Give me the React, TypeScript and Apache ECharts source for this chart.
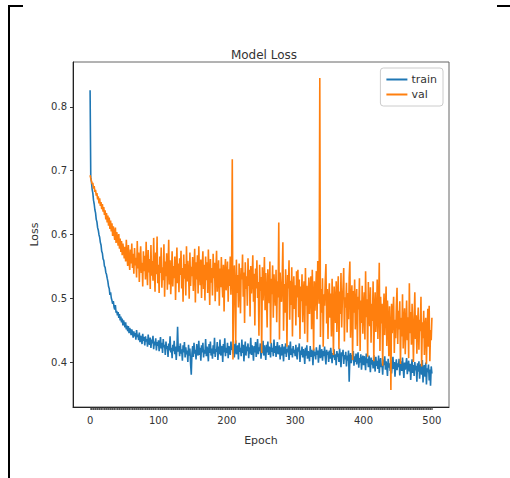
import React, { useEffect, useRef } from "react";
import * as echarts from "echarts";

// Loss values in thousandths, one per epoch (0..500)
const trainLossMilli: number[] = [
  826, 690, 682, 671, 665, 654, 648, 639, 634, 624,
  620, 611, 607, 600, 596, 588, 584, 574, 571, 562,
  560, 551, 549, 541, 538, 532, 527, 519, 516, 506,
  510, 501, 497, 492, 496, 487, 483, 490, 478, 481,
  474, 479, 470, 476, 466, 472, 463, 469, 458, 466,
  461, 455, 463, 452, 458, 449, 457, 446, 454, 450,
  443, 452, 447, 439, 449, 441, 446, 436, 451, 440,
  444, 435, 447, 432, 442, 438, 429, 445, 434, 440,
  427, 441, 433, 437, 425, 444, 431, 428, 439, 423,
  436, 430, 442, 421, 433, 427, 438, 419, 432, 426,
  435, 418, 429, 440, 422, 431, 415, 437, 424, 428,
  412, 433, 421, 426, 409, 430, 419, 441, 416, 423,
  407, 428, 418, 434, 413, 425, 404, 422, 456, 417,
  426, 410, 430, 414, 421, 403, 427, 416, 432, 408,
  424, 413, 419, 401, 428, 411, 422, 398, 381, 415,
  426, 409, 431, 414, 420, 405, 429, 417, 411, 434,
  412, 423, 403, 427, 416, 431, 408, 420, 414, 437,
  410, 425, 418, 402, 429, 415, 433, 411, 422, 406,
  427, 414, 439, 409, 421, 417, 432, 404, 425, 413,
  436, 411, 420, 426, 401, 429, 416, 438, 410, 423,
  415, 431, 407, 426, 418, 412, 433, 420, 425, 414,
  429, 408, 422, 435, 413, 419, 427, 405, 431, 417,
  423, 410, 436, 415, 428, 402, 421, 433, 411, 425,
  418, 430, 407, 424, 414, 439, 412, 427, 420, 403,
  426, 416, 432, 409, 421, 437, 413, 424, 418, 430,
  406, 422, 415, 434, 411, 427, 419, 404, 428, 416,
  433, 412, 425, 420, 408, 431, 417, 423, 410, 436,
  415, 426, 409, 421, 432, 413, 419, 427, 405, 424,
  411, 429, 418, 402, 425, 414, 430, 409, 421, 416,
  427, 404, 419, 433, 412, 422, 408, 426, 415, 420,
  410, 428, 413, 405, 424, 417, 430, 401, 419, 412,
  425, 408, 421, 414, 398, 423, 411, 427, 406, 418,
  413, 402, 426, 409, 420, 415, 396, 422, 410, 417,
  405, 424, 412, 419, 400, 416, 428, 407, 414, 421,
  403, 418, 410, 425, 408, 397, 420, 412, 417, 401,
  419, 406, 423, 411, 399, 415, 408, 421, 404, 413,
  396, 418, 409, 414, 401, 422, 407, 393, 416, 410,
  420, 398, 412, 405, 417, 394, 411, 403, 419, 370,
  408, 415, 399, 412, 404, 418, 395, 410, 401, 414,
  397, 409, 416, 392, 407, 400, 413, 389, 405, 411,
  396, 410, 402, 388, 414, 399, 406, 393, 411, 401,
  385, 408, 397, 404, 391, 412, 398, 386, 409, 395,
  403, 390, 411, 384, 400, 407, 393, 398, 381, 405,
  396, 410, 389, 402, 394, 379, 406, 392, 399, 387,
  404, 383, 397, 409, 390, 401, 378, 395, 405, 388,
  399, 393, 406, 380, 396, 402, 387, 408, 391, 376,
  400, 389, 397, 407, 382, 394, 403, 386, 398, 373,
  392, 405, 384, 396, 379, 401, 388, 395, 370, 399,
  386, 402, 375, 393, 398, 381, 404, 369, 390, 396,
  378, 400, 366, 391, 385, 397, 372, 389, 364, 394,
  383,
];

const valLossMilli: number[] = [
  693, 688, 684, 679, 681, 672, 676, 667, 670, 661,
  665, 655, 660, 649, 657, 645, 651, 640, 648, 636,
  643, 631, 638, 624, 634, 619, 630, 614, 627, 609,
  622, 605, 618, 598, 613, 602, 592, 611, 587, 604,
  596, 583, 601, 578, 594, 573, 590, 568, 586, 575,
  563, 581, 558, 592, 566, 551, 584, 560, 545, 577,
  555, 586, 548, 570, 539, 579, 552, 564, 533, 590,
  547, 572, 526, 561, 582, 540, 556, 519, 574, 543,
  567, 530, 589, 548, 521, 576, 541, 562, 515, 584,
  536, 559, 528, 595, 545, 511, 572, 538, 597, 524,
  553, 509, 566, 540, 580, 517, 549, 529, 585, 503,
  558, 535, 571, 514, 546, 592, 522, 560, 507, 538,
  574, 519, 551, 532, 566, 498, 543, 580, 524, 555,
  510, 563, 537, 575, 516, 548, 495, 569, 531, 554,
  505, 582, 527, 559, 541, 500, 572, 520, 550, 535,
  565, 512, 544, 578, 494, 557, 530, 568, 508, 582,
  539, 521, 561, 501, 548, 574, 515, 553, 497, 566,
  529, 557, 509, 577, 536, 490, 562, 525, 548, 505,
  570, 532, 556, 496, 543, 575, 511, 538, 560, 489,
  547, 518, 565, 527, 502, 553, 480, 541, 562, 513,
  534, 558, 495, 546, 520, 566, 506, 540, 718, 405,
  498, 552, 517, 430, 561, 509, 537, 486, 555, 521,
  477, 548, 530, 569, 503, 541, 462, 557, 515, 535,
  489, 563, 520, 545, 472, 551, 508, 531, 568, 495,
  539, 458, 547, 516, 560, 501, 526, 442, 553, 512,
  534, 415, 549, 497, 521, 565, 482, 540, 508, 455,
  546, 519, 493, 558, 430, 531, 507, 552, 470, 538,
  514, 489, 545, 463, 527, 502, 619, 436, 541, 510,
  495, 532, 588, 450, 523, 478, 546, 505, 425, 537,
  516, 560, 467, 528, 490, 549, 441, 512, 535, 484,
  521, 458, 543, 502, 545, 471, 530, 437, 519, 496,
  538, 463, 511, 527, 445, 548, 489, 520, 432, 506,
  533, 476, 514, 535, 452, 545, 498, 419, 527, 481,
  510, 543, 468, 559, 520, 492, 845, 440, 515, 478,
  532, 425, 507, 489, 528, 554, 461, 515, 437, 498,
  524, 470, 508, 441, 531, 486, 412, 519, 495, 462,
  527, 448, 503, 535, 421, 511, 476, 540, 455, 498,
  517, 548, 433, 502, 486, 525, 447, 509, 468, 533,
  558, 439, 497, 521, 404, 512, 478, 530, 452, 490,
  515, 426, 503, 483, 532, 418, 497, 462, 520, 445,
  488, 510, 436, 543, 471, 499, 409, 526, 480, 457,
  518, 431, 492, 465, 527, 402, 485, 510, 448, 472,
  530, 437, 489, 556, 418, 503, 461, 492, 395, 476,
  508, 443, 482, 519, 426, 497, 467, 410, 488, 453,
  357, 492, 446, 475, 503, 415, 467, 438, 489, 517,
  429, 481, 452, 496, 398, 470, 441, 507, 422, 463,
  485, 413, 458, 497, 435, 471, 407, 524, 446, 479,
  428, 492, 455, 401, 468, 510, 437, 474, 414, 459,
  486, 420, 467, 449, 503, 394, 463, 438, 481, 412,
  456, 470, 398, 447, 484, 425, 489, 402, 451, 435,
  470,
];

const xTickLabels: number[] = [0, 100, 200, 300, 400, 500];
const yTickLabels: number[] = [0.4, 0.5, 0.6, 0.7, 0.8];
const seriesNames = ["train", "val"];
const seriesColors = ["#1f77b4", "#ff7f0e"];

const xMin = -25;
const xMax = 525;
const yMin = 0.3306;
const yMax = 0.87;

export default function App() {
  const ref = useRef<HTMLDivElement>(null);

  useEffect(() => {
    if (!ref.current) return;
    const chart = echarts.init(ref.current, undefined, { renderer: "svg" });
    const toPairs = (arr: number[]) => arr.map((v, i) => [i, v / 1000]);
    const denseTicks: number[] = [];
    for (let e = 0; e < trainLossMilli.length; e += 1) denseTicks.push(e);

    const font = "DejaVu Sans";
    chart.setOption({
      animation: false,
      backgroundColor: "#ffffff",
      title: {
        text: "Model Loss",
        left: 259,
        textAlign: "center",
        top: 44,
        textStyle: { fontFamily: font, fontSize: 12, fontWeight: "normal", color: "#333" },
      },
      legend: {
        orient: "vertical",
        right: 67,
        top: 68,
        data: seriesNames,
        icon: "rect",
        itemWidth: 21,
        itemHeight: 2,
        itemGap: 4,
        padding: [6, 6, 6, 6],
        borderColor: "#cccccc",
        borderWidth: 1,
        borderRadius: 3,
        backgroundColor: "rgba(255,255,255,0.85)",
        textStyle: { fontFamily: font, fontSize: 11, color: "#333", padding: [0, 0, 0, -1] },
      },
      grid: {
        left: 73,
        right: 61,
        top: 62,
        bottom: 71,
        show: true,
        borderColor: "#666",
        borderWidth: 1,
        backgroundColor: "transparent",
      },
      xAxis: {
        type: "value",
        min: xMin,
        max: xMax,
        name: "Epoch",
        nameLocation: "middle",
        nameGap: 28,
        nameTextStyle: { fontFamily: font, fontSize: 11, color: "#333" },
        axisLine: { show: true, onZero: false, lineStyle: { color: "#222", width: 1 } },
        axisTick: {
          show: true,
          customValues: denseTicks,
          length: 3,
          lineStyle: { color: "#333", width: 0.6 },
        },
        axisLabel: {
          customValues: xTickLabels,
          fontFamily: font,
          fontSize: 10,
          color: "#333",
          margin: 8,
        },
        splitLine: { show: false },
      },
      yAxis: {
        type: "value",
        min: yMin,
        max: yMax,
        name: "Loss",
        nameLocation: "middle",
        nameGap: 30,
        nameTextStyle: { fontFamily: font, fontSize: 11, color: "#333" },
        axisLine: { show: true, onZero: false, lineStyle: { color: "#222", width: 1 } },
        axisTick: {
          show: true,
          customValues: yTickLabels,
          length: 3,
          lineStyle: { color: "#333" },
        },
        axisLabel: {
          customValues: yTickLabels,
          fontFamily: font,
          fontSize: 10,
          color: "#333",
          margin: 6,
          formatter: (v: number) => v.toFixed(1),
        },
        splitLine: { show: false },
      },
      series: [
        {
          name: seriesNames[0],
          type: "line",
          data: toPairs(trainLossMilli),
          showSymbol: false,
          symbol: "none",
          lineStyle: { color: seriesColors[0], width: 1.6 },
          itemStyle: { color: seriesColors[0] },
        },
        {
          name: seriesNames[1],
          type: "line",
          data: toPairs(valLossMilli),
          showSymbol: false,
          symbol: "none",
          lineStyle: { color: seriesColors[1], width: 1.6 },
          itemStyle: { color: seriesColors[1] },
        },
      ],
      graphic: [
        { type: "line", shape: { x1: 9, y1: 5, x2: 9, y2: 478 }, style: { stroke: "#000", lineWidth: 2 } },
        { type: "line", shape: { x1: 8, y1: 6, x2: 23, y2: 6 }, style: { stroke: "#000", lineWidth: 2 } },
        { type: "line", shape: { x1: 497, y1: 6, x2: 510, y2: 6 }, style: { stroke: "#000", lineWidth: 2 } },
      ],
    });
    return () => chart.dispose();
  }, []);

  return (
    <div
      ref={ref}
      style={{ position: "fixed", left: 0, top: 0, width: 510, height: 478 }}
    />
  );
}
